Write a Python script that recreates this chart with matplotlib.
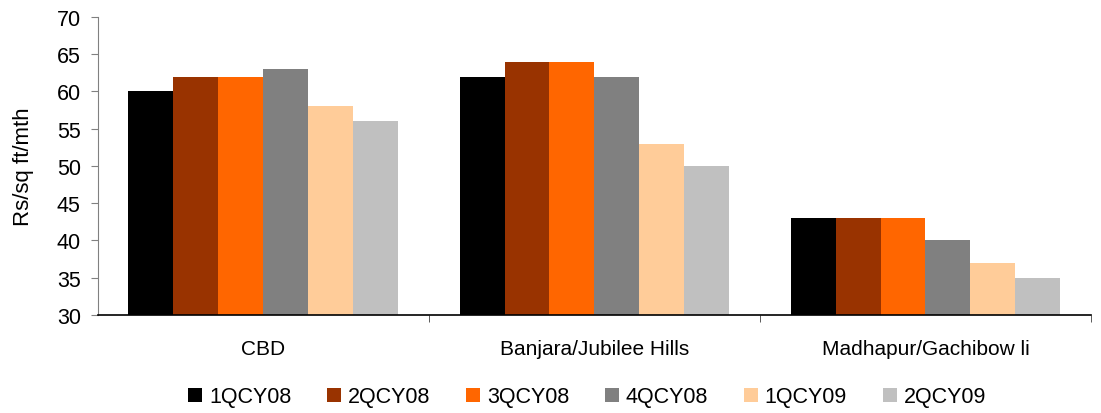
import matplotlib
matplotlib.use("Agg")
import matplotlib.pyplot as plt
import numpy as np
from matplotlib.patches import Patch

plt.rcParams['font.family'] = ['Liberation Sans', 'DejaVu Sans']

categories = ["CBD", "Banjara/Jubilee Hills", "Madhapur/Gachibow li"]
series_names = ["1QCY08", "2QCY08", "3QCY08", "4QCY08", "1QCY09", "2QCY09"]
values_1QCY08 = [60, 62, 43]
values_2QCY08 = [62, 64, 43]
values_3QCY08 = [62, 64, 43]
values_4QCY08 = [63, 62, 40]
values_1QCY09 = [58, 53, 37]
values_2QCY09 = [56, 50, 35]
series_values = [values_1QCY08, values_2QCY08, values_3QCY08,
                 values_4QCY08, values_1QCY09, values_2QCY09]
colors = ["#000000", "#993300", "#FF6600", "#808080", "#FFCC99", "#C0C0C0"]

fig = plt.figure(figsize=(11.01, 4.14), dpi=100)
ax = fig.add_axes([97.5/1101, 1 - 316/414, (1091 - 97.5)/1101, (316 - 18)/414])

n = len(series_names)
group_w = 0.813
bw = group_w / n
x = np.arange(len(categories))
for i, (name, vals, c) in enumerate(zip(series_names, series_values, colors)):
    ax.bar(x - group_w/2 + bw*(i + 0.5), vals, width=bw, color=c, label=name,
           bottom=0, zorder=2)

ax.set_ylim(30, 70)
ax.set_xlim(-0.5, len(categories) - 0.5)
ax.set_yticks(np.arange(30, 71, 5))
ax.tick_params(axis='y', direction='out', length=5, color='#808080',
               labelsize=15.5, pad=7)
ax.set_ylabel("Rs/sq ft/mth", fontsize=16, labelpad=16)

# category labels and separator ticks
ax.set_xticks(x)
ax.set_xticklabels(categories, fontsize=15)
ax.tick_params(axis='x', length=0, pad=17)
ax.set_xticks(np.arange(0.5, len(categories), 1.0), minor=True)
ax.tick_params(axis='x', which='minor', length=5, color='#404040', direction='out')

for s in ['top', 'right']:
    ax.spines[s].set_visible(False)
ax.spines['left'].set_color('#808080')
ax.spines['bottom'].set_color('#000000')
ax.spines['bottom'].set_linewidth(1.2)

handles = [Patch(facecolor=c, edgecolor='none') for c in colors]
fig.legend(handles, series_names, loc='center', bbox_to_anchor=(587/1101, 1 - 398/414),
           ncol=6, frameon=False, fontsize=15.5, handlelength=0.65, handleheight=0.65,
           handletextpad=0.33, columnspacing=1.65)

fig.savefig("out.png", dpi=100)
